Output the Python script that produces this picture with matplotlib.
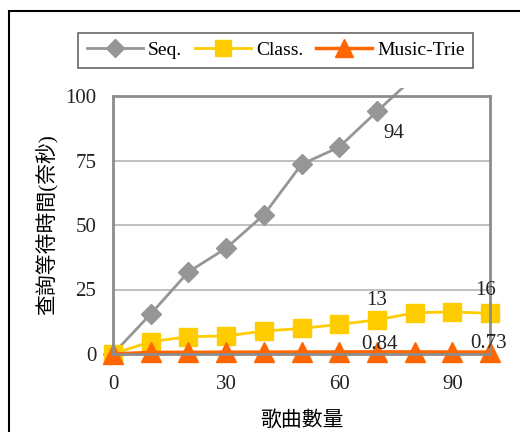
import matplotlib
matplotlib.use("Agg")
import matplotlib.pyplot as plt
from matplotlib.patches import Rectangle

plt.rcParams['font.family'] = ['Liberation Serif', 'Noto Sans CJK TC']
plt.rcParams['font.size'] = 14

songs = [0, 10, 20, 30, 40, 50, 60, 70, 80, 90, 100]
seq = [0, 15.5, 31.8, 41.0, 53.9, 73.5, 80.2, 94.0, 107.5, 121.0, 134.0]
classified = [0, 4.8, 6.7, 7.0, 8.9, 9.9, 11.5, 13.2, 16.0, 16.3, 15.8]
music_trie = [0, 0.62, 0.66, 0.70, 0.72, 0.75, 0.80, 0.84, 0.80, 0.77, 0.73]

x_ticks = [0, 30, 60, 90]
y_ticks = [0, 25, 50, 75, 100]

# value labels: (x, y, text)
labels = [(74.5, 85.4, "94"), (69.8, 20.6, "13"), (98.8, 24.7, "16"),
          (70.6, 3.5, "0.84"), (99.5, 4.2, "0.73")]


def main():
    fig = plt.figure(figsize=(5.2, 4.32), dpi=100)
    # outer frame around the chart
    fig.patches.append(Rectangle((9 / 520, -0.1), 1.2, 1.1 - 11 / 432, transform=fig.transFigure,
                                 fill=False, edgecolor='black', linewidth=1.5))

    ax = fig.add_axes([113 / 520, 78 / 432, 377 / 520, 258 / 432])
    ax.set_xlim(0, 100)
    ax.set_ylim(0, 100)
    for s in ax.spines.values():
        s.set_color('#8c8c8c')
        s.set_linewidth(2)
    ax.set_xticks(x_ticks)
    ax.set_yticks(y_ticks)
    ax.tick_params(length=0, colors='#222222', labelsize=15)
    ax.tick_params(axis='y', pad=12)
    ax.tick_params(axis='x', pad=15)
    for y in y_ticks[1:-1]:
        ax.axhline(y, color='#b4b4b4', linewidth=1.2, zorder=0)

    clip = Rectangle((-10, -10), 120, 113.2, transform=ax.transData)
    l1, = ax.plot(songs, seq, color='#969696', marker='D', markersize=10, linewidth=2, label='Seq.')
    l2, = ax.plot(songs, classified, color='#ffcc00', marker='s', markersize=13, linewidth=2, label='Class.')
    l3, = ax.plot(songs, music_trie, color='#ff6600', marker='^', markersize=14, linewidth=2.5, label='Music-Trie')
    for line in (l1, l2, l3):
        line.set_clip_path(clip)

    for x, y, t in labels:
        ax.text(x, y, t, ha='center', va='center', fontsize=15, color='#222222', zorder=5)

    ax.set_ylabel("查詢等待時間(奈秒)", fontsize=15)
    ax.yaxis.set_label_coords(-0.145, 0.5)
    ax.set_xlabel("歌曲數量", fontsize=15)
    ax.xaxis.set_label_coords(0.5, -0.22)

    leg = fig.legend(handles=[l1, l2, l3], loc='center', bbox_to_anchor=(275.5 / 520, 0.884), ncol=3,
                     fancybox=False, edgecolor='#404040', handlelength=2.9, handletextpad=0.25,
                     columnspacing=0.65, borderpad=0.45, fontsize=14, markerscale=0.9)
    leg.get_frame().set_linewidth(1.2)

    fig.savefig("out.png", dpi=100)


if __name__ == "__main__":
    main()
